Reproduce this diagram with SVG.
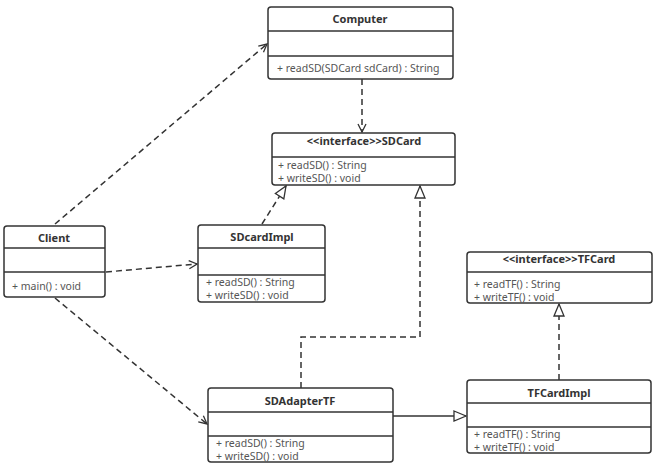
<svg xmlns="http://www.w3.org/2000/svg" width="654" height="466" viewBox="0 0 654 466">
<style>
.box{fill:#fff;stroke:#333;stroke-width:1.5}
.div{stroke:#333;stroke-width:1.3}
.t{font-family:"Noto Sans","Open Sans",sans-serif;font-size:11px;font-weight:bold;fill:#333;text-anchor:middle}
.m{font-family:"Noto Sans","Open Sans",sans-serif;font-size:10.5px;fill:#555}
.dash{fill:none;stroke:#333;stroke-width:1.5;stroke-dasharray:6,4}
.solid{fill:none;stroke:#333;stroke-width:1.5}
</style>
<defs>
<marker id="open" markerWidth="10" markerHeight="10" refX="9" refY="5" orient="auto" markerUnits="userSpaceOnUse">
<path d="M1,1 L9,5 L1,9" fill="none" stroke="#333" stroke-width="1.3"/>
</marker>
<marker id="tri" markerWidth="14" markerHeight="12" refX="13" refY="6" orient="auto" markerUnits="userSpaceOnUse">
<path d="M1,1 L13,6 L1,11 Z" fill="#fff" stroke="#333" stroke-width="1.3"/>
</marker>
</defs>
<rect width="654" height="466" fill="#fff"/>
<g id="connectors">
<path class="dash" d="M55,224 L267,44" marker-end="url(#open)"/>
<path class="dash" d="M362,79 L362,132" marker-end="url(#open)"/>
<path class="dash" d="M106,272 L197,264" marker-end="url(#open)"/>
<path class="dash" d="M262,224 L286,186" marker-end="url(#tri)"/>
<path class="dash" d="M55,298 L207,424" marker-end="url(#open)"/>
<path class="dash" d="M301,388 L301,337 L420,337 L420,186" marker-end="url(#tri)"/>
<path class="solid" d="M393,416 L466,416" marker-end="url(#tri)"/>
<path class="dash" d="M559,380 L559,304" marker-end="url(#tri)"/>
</g>
<g id="Computer">
<rect class="box" x="268" y="7" width="185" height="72" rx="3"/>
<line class="div" x1="268" y1="31" x2="453" y2="31"/>
<line class="div" x1="268" y1="56" x2="453" y2="56"/>
<text class="t" x="360" y="23">Computer</text>
<text class="m" x="277" y="72">+ readSD(SDCard sdCard) : String</text>
</g>
<g id="SDCard">
<rect class="box" x="272" y="133" width="183" height="52" rx="3"/>
<line class="div" x1="272" y1="157" x2="455" y2="157"/>
<text class="t" x="364" y="145">&lt;&lt;interface&gt;&gt;SDCard</text>
<text class="m" x="278" y="169">+ readSD() : String</text>
<text class="m" x="278" y="182">+ writeSD() : void</text>
</g>
<g id="Client">
<rect class="box" x="4" y="226" width="101" height="71" rx="3"/>
<line class="div" x1="4" y1="248" x2="105" y2="248"/>
<line class="div" x1="4" y1="272" x2="105" y2="272"/>
<text class="t" x="54" y="242">Client</text>
<text class="m" x="12" y="290">+ main() : void</text>
</g>
<g id="SDcardImpl">
<rect class="box" x="198" y="225" width="127" height="77" rx="3"/>
<line class="div" x1="198" y1="248" x2="325" y2="248"/>
<line class="div" x1="198" y1="275" x2="325" y2="275"/>
<text class="t" x="262" y="241">SDcardImpl</text>
<text class="m" x="206" y="286">+ readSD() : String</text>
<text class="m" x="206" y="299">+ writeSD() : void</text>
</g>
<g id="TFCard">
<rect class="box" x="467" y="252" width="185" height="51" rx="3"/>
<line class="div" x1="467" y1="272" x2="652" y2="272"/>
<text class="t" x="559" y="263">&lt;&lt;interface&gt;&gt;TFCard</text>
<text class="m" x="474" y="288">+ readTF() : String</text>
<text class="m" x="474" y="301">+ writeTF() : void</text>
</g>
<g id="SDAdapterTF">
<rect class="box" x="208" y="388" width="185" height="74" rx="3"/>
<line class="div" x1="208" y1="412" x2="393" y2="412"/>
<line class="div" x1="208" y1="436" x2="393" y2="436"/>
<text class="t" x="300" y="405">SDAdapterTF</text>
<text class="m" x="216" y="447">+ readSD() : String</text>
<text class="m" x="216" y="460">+ writeSD() : void</text>
</g>
<g id="TFCardImpl">
<rect class="box" x="467" y="380" width="184" height="73" rx="3"/>
<line class="div" x1="467" y1="403" x2="651" y2="403"/>
<line class="div" x1="467" y1="427" x2="651" y2="427"/>
<text class="t" x="559" y="397">TFCardImpl</text>
<text class="m" x="474" y="438">+ readTF() : String</text>
<text class="m" x="474" y="451">+ writeTF() : void</text>
</g>
</svg>
